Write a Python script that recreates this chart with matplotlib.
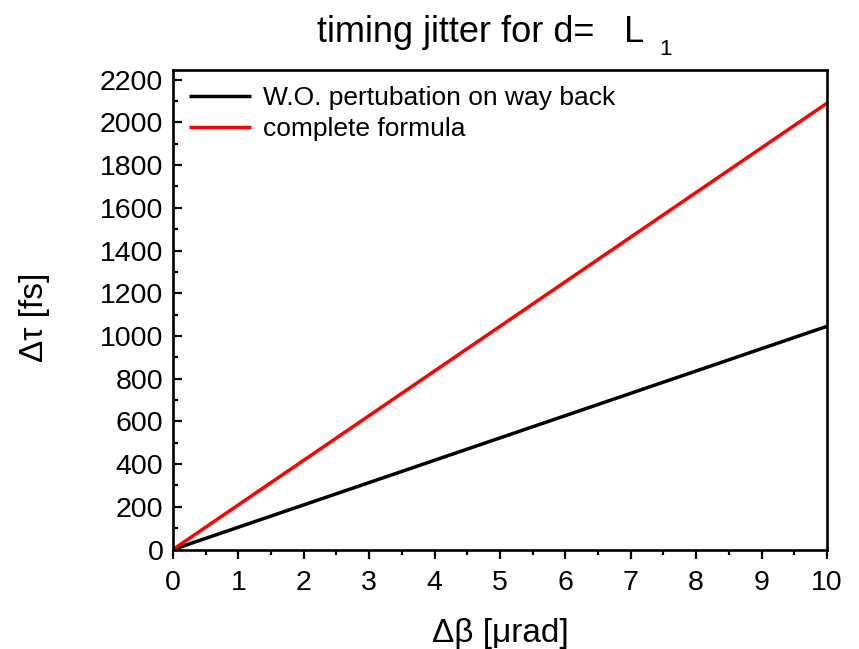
import matplotlib
matplotlib.use("Agg")
import matplotlib.pyplot as plt
from matplotlib.ticker import MultipleLocator

plt.rcParams['font.family'] = ['Liberation Sans', 'DejaVu Sans']

# angular deviation [µrad]
delta_beta = [0, 1, 2, 3, 4, 5, 6, 7, 8, 9, 10]
# timing jitter without the perturbation on the way back [fs]
jitter_wo_back = [0, 104.5, 209, 313.5, 418, 522.5, 627, 731.5, 836, 940.5, 1045]
# timing jitter from the complete formula [fs]
jitter_complete = [0, 209, 418, 627, 836, 1045, 1254, 1463, 1672, 1881, 2090]

series_labels = ["W.O. pertubation on way back", "complete formula"]
series_colors = ["black", "red"]

fig = plt.figure(figsize=(8.59, 6.49), dpi=100)
ax = fig.add_axes([0.2014, 0.1533, 0.7613, 0.7387])

ax.plot(delta_beta, jitter_wo_back, color=series_colors[0], lw=2.5,
        label=series_labels[0], solid_capstyle='butt')
ax.plot(delta_beta, jitter_complete, color=series_colors[1], lw=2.5,
        label=series_labels[1], solid_capstyle='butt')

ax.set_xlim(0, 10)
ax.set_ylim(0, 2245)
ax.xaxis.set_major_locator(MultipleLocator(1))
ax.xaxis.set_minor_locator(MultipleLocator(0.5))
ax.yaxis.set_major_locator(MultipleLocator(200))
ax.yaxis.set_minor_locator(MultipleLocator(100))

for s in ax.spines.values():
    s.set_linewidth(1.9)

ax.tick_params(axis='x', which='major', direction='out', length=6.5, width=1.6,
               labelsize=20.5, pad=8)
ax.tick_params(axis='x', which='minor', direction='out', length=3.5, width=1.6)
ax.tick_params(axis='y', which='major', direction='in', length=6.5, width=1.6,
               labelsize=20.5, pad=7)
ax.tick_params(axis='y', which='minor', direction='in', length=3.5, width=1.6)
ax.tick_params(top=False, right=False)

ax.set_xlabel("Δβ [μrad]", fontsize=24, labelpad=16)
ax.set_ylabel("Δτ [fs]", fontsize=24)
ax.yaxis.set_label_coords(-0.188, 0.485)

# title: main text, then "L" with a lowered subscript "1"
fig.text(0.530, 0.9353, "timing jitter for d=", fontsize=26,
         ha='center', va='baseline')
fig.text(0.726, 0.9353, "L", fontsize=26, ha='left', va='baseline')
fig.text(0.768, 0.9153, "1", fontsize=16, ha='left', va='baseline')

ax.legend(loc='upper left', frameon=False, fontsize=19,
          handlelength=2.35, handletextpad=0.45, labelspacing=0.28,
          borderaxespad=0.2, bbox_to_anchor=(0.0, 1.0))

fig.savefig("out.png", dpi=100)
